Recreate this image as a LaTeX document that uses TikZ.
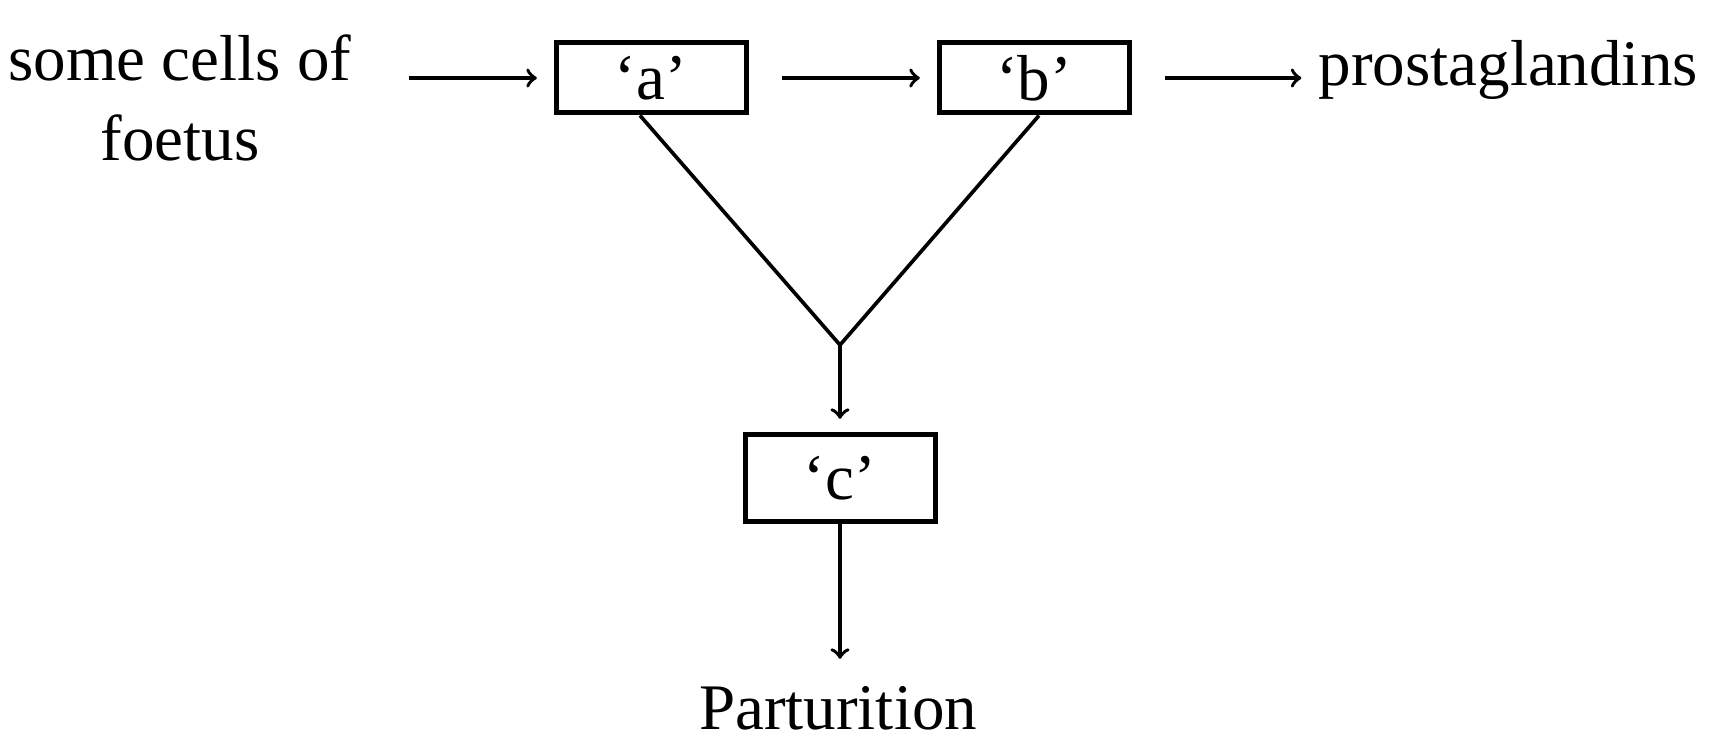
\documentclass[tikz,border=0pt]{standalone}
\usepackage{fontspec}
\setmainfont{Liberation Serif}
\usepackage{tikz}

\tikzset{
  box/.style={draw, line width=1.5pt, minimum width=57pt, minimum height=21pt, inner sep=0pt},
  txt/.style={inner sep=0pt},
  flow/.style={->, line width=1.1pt, shorten >=5pt, shorten <=10pt},
}

\begin{document}
\begin{tikzpicture}[x=0.3pt,y=0.3pt,yscale=-1,xscale=1,font=\fontsize{19.5}{24}\selectfont]
\useasboundingbox (0,0) rectangle (1715,741);

% Text Node
\node [txt, align=center] (src) at (180,98) {some cells of\\foetus};
%Shape: Rectangle
\node [box] (a) at (651,78) {`a'};
%Shape: Rectangle
\node [box] (b) at (1034,78) {`b'};
% Text Node
\node [txt, anchor=west] (pg) at (1318,70) {prostaglandins};
%Shape: Rectangle
\node [box, minimum height=26pt] (c) at (840,478) {`c'};
% Text Node
\node [txt] (part) at (838,708) {Parturition};
\coordinate (join) at (840,345);

%Straight Lines
\draw [flow, shorten <=17pt] (src.east |- a.west) -- (a.west);
\draw [flow] (a) -- (b);
\draw [flow] (b.east) -- (pg.west |- b.east);
%Straight Lines
\draw [line width=1.1pt] ([xshift=-3.3pt]a.south) -- (join) -- ([xshift=1.5pt]b.south);
\draw [flow, shorten <=0pt, shorten >=4pt] (join) -- (c);
\draw [flow, shorten <=0pt, shorten >=8pt] (c) -- (c |- part.north);

\end{tikzpicture}
\end{document}
